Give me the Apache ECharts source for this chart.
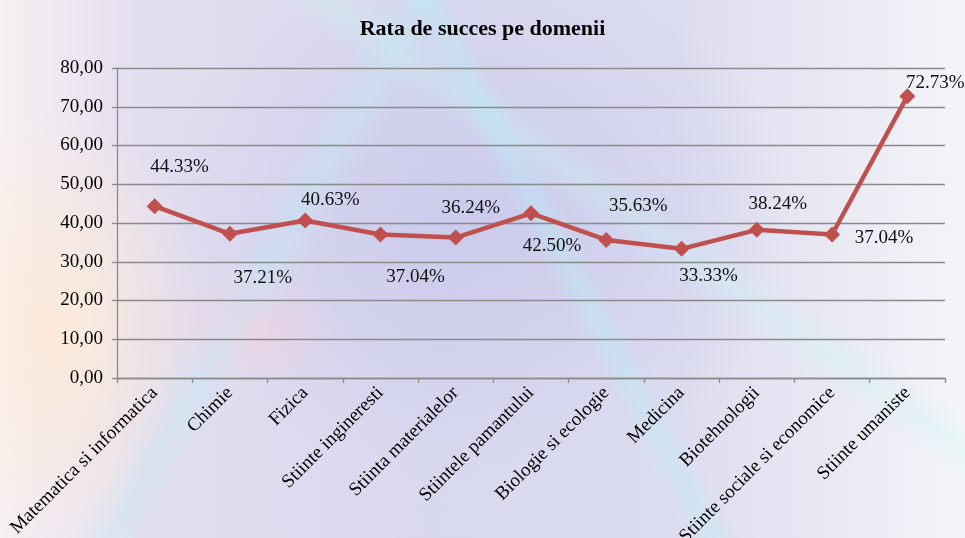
<!DOCTYPE html>
<html>
<head>
<meta charset="utf-8">
<script src="https://cdn.jsdelivr.net/npm/echarts@6/dist/echarts.min.js"></script>
<style>
html,body{margin:0;padding:0;width:965px;height:538px;overflow:hidden;}
body{
  background:
    linear-gradient(62deg, rgba(255,255,255,0) 0%, rgba(255,255,255,0) 55%, rgba(180,240,245,0.35) 57%, rgba(255,255,255,0) 59%),
    linear-gradient(120deg, rgba(255,255,255,0) 30%, rgba(190,235,245,0.35) 33%, rgba(255,255,255,0) 36%),
    linear-gradient(35deg, rgba(255,255,255,0) 60%, rgba(200,245,240,0.3) 63%, rgba(255,255,255,0) 66%),
    radial-gradient(ellipse 140px 220px at 60px 330px, rgba(255,235,215,0.9), rgba(255,235,215,0) 100%),
    radial-gradient(ellipse 90px 60px at 250px 330px, rgba(255,205,215,0.5), rgba(255,205,215,0) 100%),
    radial-gradient(ellipse 320px 260px at 470px 220px, rgba(200,200,235,0.85), rgba(200,200,235,0) 100%),
    linear-gradient(90deg, #f6f0f2 0%, #e3def0 15%, #d8d8ee 45%, #dcdcf0 70%, #ececf5 90%, #f4f4f8 100%);
}
#chart{width:965px;height:538px;}
</style>
</head>
<body>
<div id="chart"></div>
<script>
const categories = [
  "Matematica si informatica", "Chimie", "Fizica", "Stiinte ingineresti",
  "Stiinta materialelor", "Stiintele pamantului", "Biologie si ecologie",
  "Medicina", "Biotehnologii", "Stiinte sociale si economice", "Stiinte umaniste"
];
const successRate = [44.33, 37.21, 40.63, 37.04, 36.24, 42.50, 35.63, 33.33, 38.24, 37.04, 72.73];
const yTicks = [0, 10, 20, 30, 40, 50, 60, 70, 80];

// label placement (styling only)
const labelOffsets = [[25,-39],[33,44],[25,-21],[35,43],[15,-30],[21,33],[32,-34],[27,27],[21,-26],[52,4],[28,-13]];

const chart = echarts.init(document.getElementById('chart'), null, {renderer:'canvas'});
const serif = '"Liberation Serif", "DejaVu Serif", serif';
const option = {
  backgroundColor: 'transparent',
  animation: false,
  title: {
    text: 'Rata de succes pe domenii',
    left: 'center', top: 13,
    textStyle: {fontFamily: serif, fontSize: 22, fontWeight: 'bold', color: '#000'}
  },
  grid: {left: 117, right: 20, top: 68, bottom: 160, containLabel: false, outerBoundsMode: 'none'},
  xAxis: {
    type: 'category',
    data: categories,
    boundaryGap: true,
    axisLine: {show: true, lineStyle: {color: '#8a8a8a', width: 1.3}},
    axisTick: {show: true, length: 5, alignWithLabel: false, lineStyle: {color: '#8a8a8a', width: 1.3}},
    axisLabel: {interval: 0, rotate: 45, margin: 12, fontFamily: serif, fontSize: 19, color: '#000'}
  },
  yAxis: {
    type: 'value',
    min: yTicks[0], max: yTicks[yTicks.length-1], interval: yTicks[1]-yTicks[0],
    axisLine: {show: true, lineStyle: {color: '#8a8a8a', width: 1.3}},
    axisTick: {show: true, length: 5, lineStyle: {color: '#8a8a8a', width: 1.3}},
    axisLabel: {margin: 14, fontFamily: serif, fontSize: 19, color: '#000',
      formatter: v => v.toFixed(2).replace('.', ',')},
    splitLine: {show: true, lineStyle: {color: '#8a8a8a', width: 1.3}}
  },
  series: [{
    type: 'line',
    data: successRate.map((v, i) => ({
      value: v,
      label: {offset: labelOffsets[i]}
    })),
    symbol: 'diamond',
    symbolSize: 16,
    lineStyle: {color: '#c0504d', width: 4.5},
    itemStyle: {color: '#c0504d'},
    label: {
      show: true, position: 'inside',
      fontFamily: serif, fontSize: 19, color: '#111',
      formatter: p => p.value.toFixed(2) + '%'
    }
  }]
};
chart.setOption(option);
</script>
</body>
</html>
